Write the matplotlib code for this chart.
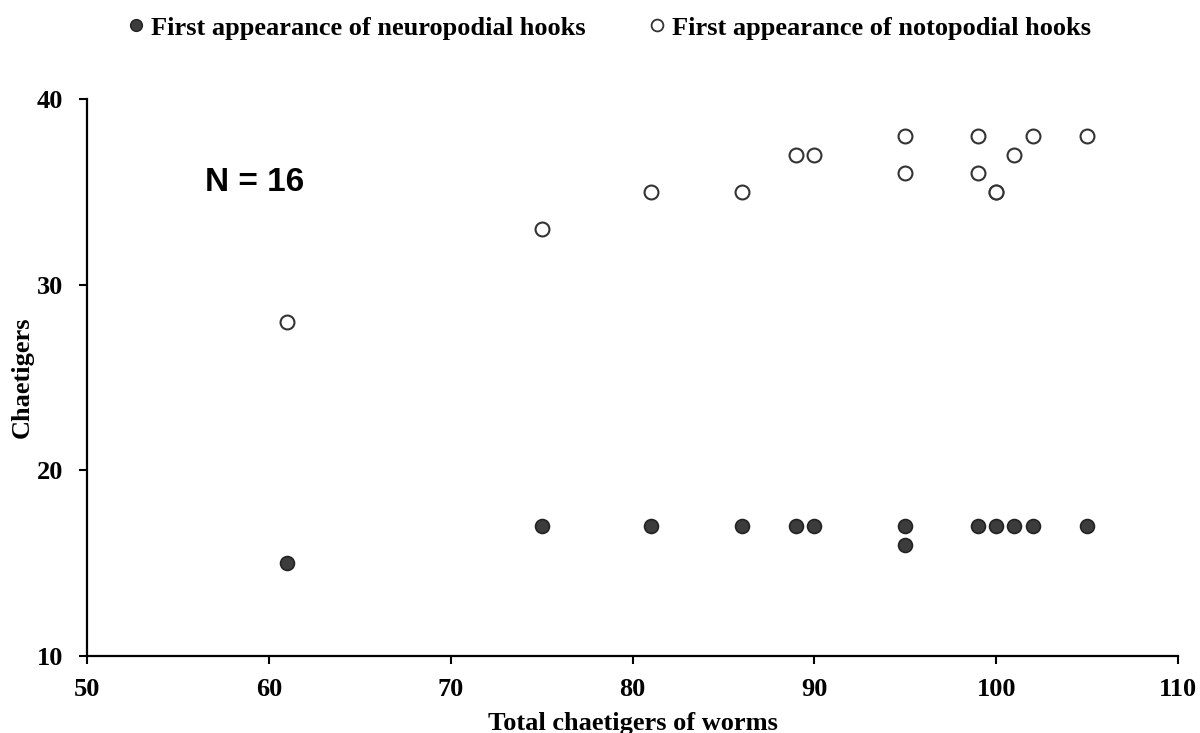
import matplotlib.pyplot as plt
from matplotlib.lines import Line2D

# Neuropodial hooks (filled) and notopodial hooks (open)
neuro_x = [61, 75, 81, 86, 89, 90, 95, 95, 99, 100, 101, 102, 105]
neuro_y = [15, 17, 17, 17, 17, 17, 17, 16, 17, 17, 17, 17, 17]

noto_x = [61, 75, 81, 86, 89, 90, 95, 95, 99, 99, 100, 100, 101, 102, 105]
noto_y = [28, 33, 35, 35, 37, 37, 38, 36, 38, 36, 35, 35, 37, 38, 38]

x_ticks = [50, 60, 70, 80, 90, 100, 110]
y_ticks = [10, 20, 30, 40]

serif = ['Liberation Serif', 'DejaVu Serif']

fig = plt.figure(figsize=(12, 7.33), dpi=100)
ax = fig.add_axes([0.0725, 0.105, 0.9092, 0.76])

ax.scatter(neuro_x, neuro_y, s=100, facecolor='#3c3c3c', edgecolor='#222222',
           linewidth=1.2, zorder=3)
ax.scatter(noto_x, noto_y, s=100, facecolor='white', edgecolor='#333333',
           linewidth=1.5, zorder=3)

ax.set_xlim(50, 110)
ax.set_ylim(10, 40)
ax.set_xticks(x_ticks)
ax.set_yticks(y_ticks)
ax.tick_params(direction='out', length=6, width=1.5)
ax.tick_params(axis='x', pad=10)
ax.tick_params(axis='y', pad=11)
for lab in ax.get_xticklabels() + ax.get_yticklabels():
    lab.set_family(serif)
    lab.set_fontweight('bold')
    lab.set_fontsize(19)

for side in ['top', 'right']:
    ax.spines[side].set_visible(False)
for side in ['left', 'bottom']:
    ax.spines[side].set_linewidth(1.6)

ax.set_xlabel('Total chaetigers of worms', family=serif, fontweight='bold',
              fontsize=19, labelpad=8)
ax.set_ylabel('Chaetigers', family=serif, fontweight='bold', fontsize=19,
              labelpad=2)

ax.text(56.5, 35.5, 'N = 16', family=['Liberation Sans', 'DejaVu Sans'],
        fontweight='bold', fontsize=24, va='center', ha='left')

handles = [
    Line2D([], [], marker='o', linestyle='none', markersize=8.5,
           markerfacecolor='#3c3c3c', markeredgecolor='#222222'),
    Line2D([], [], marker='o', linestyle='none', markersize=8.5,
           markerfacecolor='white', markeredgecolor='#333333', markeredgewidth=1.3),
]
labels = ['First appearance of neuropodial hooks',
          'First appearance of notopodial hooks']
fig.legend(handles, labels, loc='center', bbox_to_anchor=(0.506, 0.962), ncol=2,
           frameon=False, handlelength=1.0, handletextpad=0.07, columnspacing=2.2,
           prop={'family': serif, 'weight': 'bold', 'size': 19})

fig.savefig('out.png', dpi=100)
